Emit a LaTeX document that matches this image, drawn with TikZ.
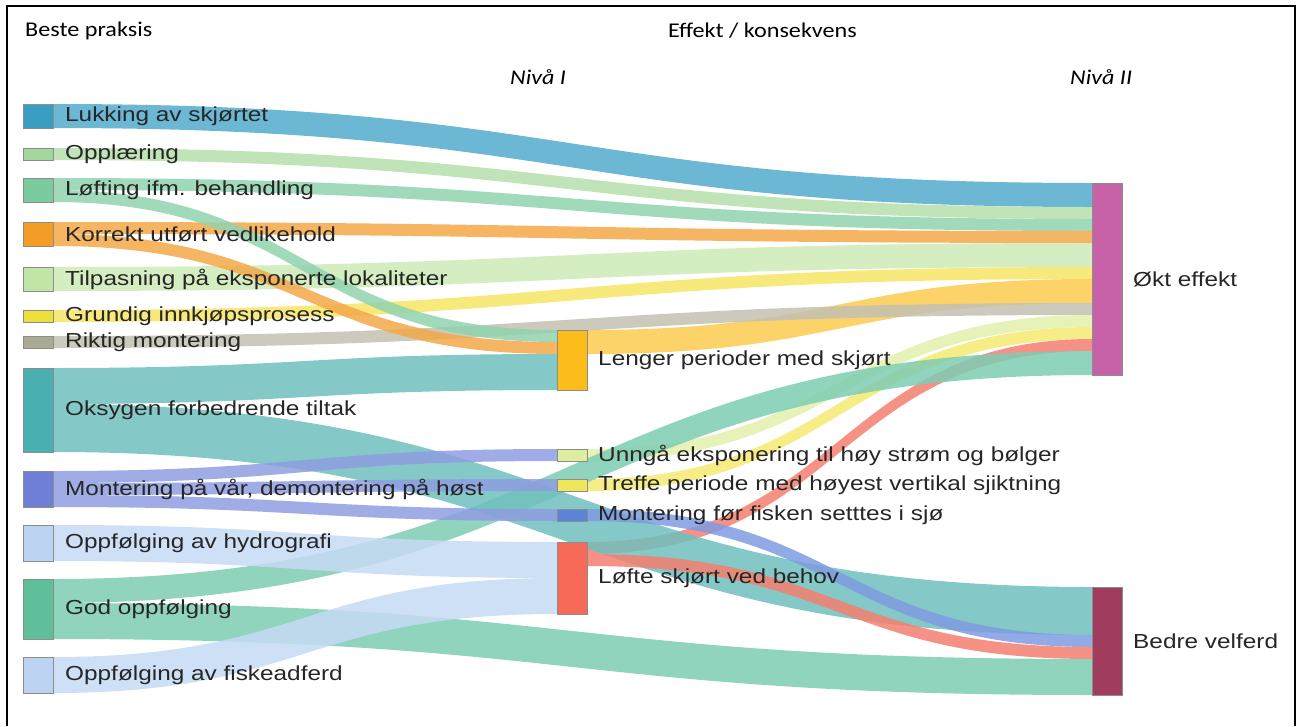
\documentclass[tikz,border=0pt]{standalone}
\usepackage{fontspec}
\setmainfont{Liberation Sans}[FakeStretch=1.2]
\newfontfamily\headfont{Carlito}[FakeStretch=1.15]
\usepackage{xcolor}
\usetikzlibrary{positioning, calc, backgrounds}

\definecolor{lukkN}{HTML}{3A9EC2}\definecolor{lukkL}{HTML}{52AACB}
\definecolor{opplN}{HTML}{A2D69C}\definecolor{opplL}{HTML}{B5DFAA}
\definecolor{loftN}{HTML}{7CCB9E}\definecolor{loftL}{HTML}{90D3AE}
\definecolor{korrN}{HTML}{F39C26}\definecolor{korrL}{HTML}{F3A848}
\definecolor{tilpN}{HTML}{C0E5A5}\definecolor{tilpL}{HTML}{CDEAB6}
\definecolor{grunN}{HTML}{EDE03A}\definecolor{grunL}{HTML}{F6E565}
\definecolor{riktN}{HTML}{A9A994}\definecolor{riktL}{HTML}{C2C1B2}
\definecolor{oksyN}{HTML}{4AAFB0}\definecolor{oksyL}{HTML}{6FC0BD}
\definecolor{montN}{HTML}{6F7FD6}\definecolor{montL}{HTML}{8F9DE0}
\definecolor{hydrN}{HTML}{BDD3F2}\definecolor{hydrL}{HTML}{C6DAF4}
\definecolor{godN}{HTML}{5EBF9A}\definecolor{godL}{HTML}{7ECDB2}
\definecolor{lengN}{HTML}{FBBC1C}\definecolor{lengL}{HTML}{FCCB4E}
\definecolor{unngN}{HTML}{DDEEA0}\definecolor{unngL}{HTML}{E3F0AB}
\definecolor{trefN}{HTML}{EEE65C}\definecolor{trefL}{HTML}{F4EA72}
\definecolor{mforN}{HTML}{5C84D6}\definecolor{mforL}{HTML}{7F9BE0}
\definecolor{lofteN}{HTML}{F76A58}\definecolor{lofteL}{HTML}{F47F70}
\definecolor{oktN}{HTML}{C862A8}
\definecolor{bedrN}{HTML}{A03C5E}

% colour, from, offset, to, offset, width
\newcommand\flow[6]{%
  \path ([yshift=-#3pt]#2.north east) coordinate (s1)
        ([yshift=-#3pt-#6pt]#2.north east) coordinate (s2)
        ([yshift=-#5pt]#4.north west) coordinate (t1)
        ([yshift=-#5pt-#6pt]#4.north west) coordinate (t2)
        ($(s1)!.5!(t1)$) coordinate (m);
  \fill[#1, fill opacity=.85] (s1) .. controls (m |- s1) and (m |- t1) .. (t1)
    -- (t2) .. controls (m |- t2) and (m |- s2) .. (s2) -- cycle;
}

\begin{document}
\begin{tikzpicture}[x=1pt, y=-1pt,
    bar/.style={draw=black!45, line width=0.6pt, minimum width=30pt, inner sep=0pt, outer sep=0pt},
    lbl/.style={font=\fontsize{20.3}{24}\selectfont, text=black!85, inner sep=0pt},
    head/.style={font=\headfont\fontsize{21}{25}\selectfont, inner sep=0pt, anchor=west}
]
    \useasboundingbox (0,0) rectangle (1301,726);
    \draw[line width=2.5pt] (7,726) -- (7,6) -- (1295,6) -- (1295,726);

    \node[head] (beste) at (25,31) {Beste praksis};
    \node[head] (effekt) at (668,31) {Effekt / konsekvens};
    \node[head, font=\headfont\itshape\fontsize{21}{25}\selectfont] (niva1) at (510,77) {Nivå I};
    \node[head, font=\headfont\itshape\fontsize{21}{25}\selectfont] (niva2) at (1070,77) {Nivå II};

    \node[bar, fill=lukkN, minimum height=24pt] (lukk) at (38,116) {};
    \node[bar, fill=opplN, minimum height=12pt] (oppl) at (38,154) {};
    \node[bar, fill=loftN, minimum height=24pt] (loft) at (38,190) {};
    \node[bar, fill=korrN, minimum height=24pt] (korr) at (38,234) {};
    \node[bar, fill=tilpN, minimum height=24pt] (tilp) at (38,279) {};
    \node[bar, fill=grunN, minimum height=12pt] (grun) at (38,316) {};
    \node[bar, fill=riktN, minimum height=12pt] (rikt) at (38,342) {};
    \node[bar, fill=oksyN, minimum height=84pt] (oksy) at (38,410) {};
    \node[bar, fill=montN, minimum height=36pt] (mont) at (38,489) {};
    \node[bar, fill=hydrN, minimum height=36pt] (hydr) at (38,543) {};
    \node[bar, fill=godN, minimum height=60pt] (god) at (38,609) {};
    \node[bar, fill=hydrN, minimum height=36pt] (fisk) at (38,675) {};

    \node[bar, fill=lengN, minimum height=60pt] (leng) at (572,360) {};
    \node[bar, fill=unngN, minimum height=12pt] (unng) at (572,455) {};
    \node[bar, fill=trefN, minimum height=12pt] (tref) at (572,485) {};
    \node[bar, fill=mforN, minimum height=12pt] (mfor) at (572,515) {};
    \node[bar, fill=lofteN, minimum height=72pt] (lofte) at (572,578) {};

    \node[bar, fill=oktN, minimum height=192pt] (okt) at (1107,279) {};
    \node[bar, fill=bedrN, minimum height=108pt] (bedr) at (1107,641) {};

    \begin{pgfonlayer}{background}
    \flow{lukkL}{lukk}{0}{okt}{0}{24}
    \flow{opplL}{oppl}{0}{okt}{24}{12}
    \flow{loftL}{loft}{0}{okt}{36}{12}
    \flow{korrL}{korr}{0}{okt}{48}{12}
    \flow{tilpL}{tilp}{0}{okt}{60}{24}
    \flow{grunL}{grun}{0}{okt}{84}{12}
    \flow{lengL}{leng}{0}{okt}{96}{24}
    \flow{riktL}{rikt}{0}{okt}{120}{12}
    \flow{unngL}{unng}{0}{okt}{132}{12}
    \flow{trefL}{tref}{0}{okt}{144}{12}
    \flow{lofteL}{lofte}{0}{okt}{156}{12}
    \flow{godL}{god}{0}{okt}{168}{24}
    \flow{loftL}{loft}{12}{leng}{0}{12}
    \flow{korrL}{korr}{12}{leng}{12}{12}
    \flow{oksyL}{oksy}{0}{leng}{24}{36}
    \flow{oksyL}{oksy}{36}{bedr}{0}{48}
    \flow{montL}{mont}{0}{unng}{0}{12}
    \flow{montL}{mont}{12}{tref}{0}{12}
    \flow{montL}{mont}{24}{mfor}{0}{12}
    \flow{mforL}{mfor}{0}{bedr}{48}{12}
    \flow{lofteL}{lofte}{12}{bedr}{60}{12}
    \flow{godL}{god}{24}{bedr}{72}{36}
    \flow{hydrL}{hydr}{0}{lofte}{0}{36}
    \flow{hydrL}{fisk}{0}{lofte}{36}{36}
    \end{pgfonlayer}

    \node[lbl, right=12pt of lukk] {Lukking av skjørtet};
    \node[lbl, right=12pt of oppl] {Opplæring};
    \node[lbl, right=12pt of loft] {Løfting ifm. behandling};
    \node[lbl, right=12pt of korr] {Korrekt utført vedlikehold};
    \node[lbl, right=12pt of tilp] {Tilpasning på eksponerte lokaliteter};
    \node[lbl, right=12pt of grun] {Grundig innkjøpsprosess};
    \node[lbl, right=12pt of rikt] {Riktig montering};
    \node[lbl, right=12pt of oksy] {Oksygen forbedrende tiltak};
    \node[lbl, right=12pt of mont] {Montering på vår, demontering på høst};
    \node[lbl, right=12pt of hydr] {Oppfølging av hydrografi};
    \node[lbl, right=12pt of god] {God oppfølging};
    \node[lbl, right=12pt of fisk] {Oppfølging av fiskeadferd};

    \node[lbl, right=11pt of leng] {Lenger perioder med skjørt};
    \node[lbl, right=11pt of unng] {Unngå eksponering til høy strøm og bølger};
    \node[lbl, right=11pt of tref] {Treffe periode med høyest vertikal sjiktning};
    \node[lbl, right=11pt of mfor] {Montering før fisken setttes i sjø};
    \node[lbl, right=11pt of lofte] {Løfte skjørt ved behov};

    \node[lbl, right=11pt of okt] {Økt effekt};
    \node[lbl, right=11pt of bedr] {Bedre velferd};
\end{tikzpicture}
\end{document}
